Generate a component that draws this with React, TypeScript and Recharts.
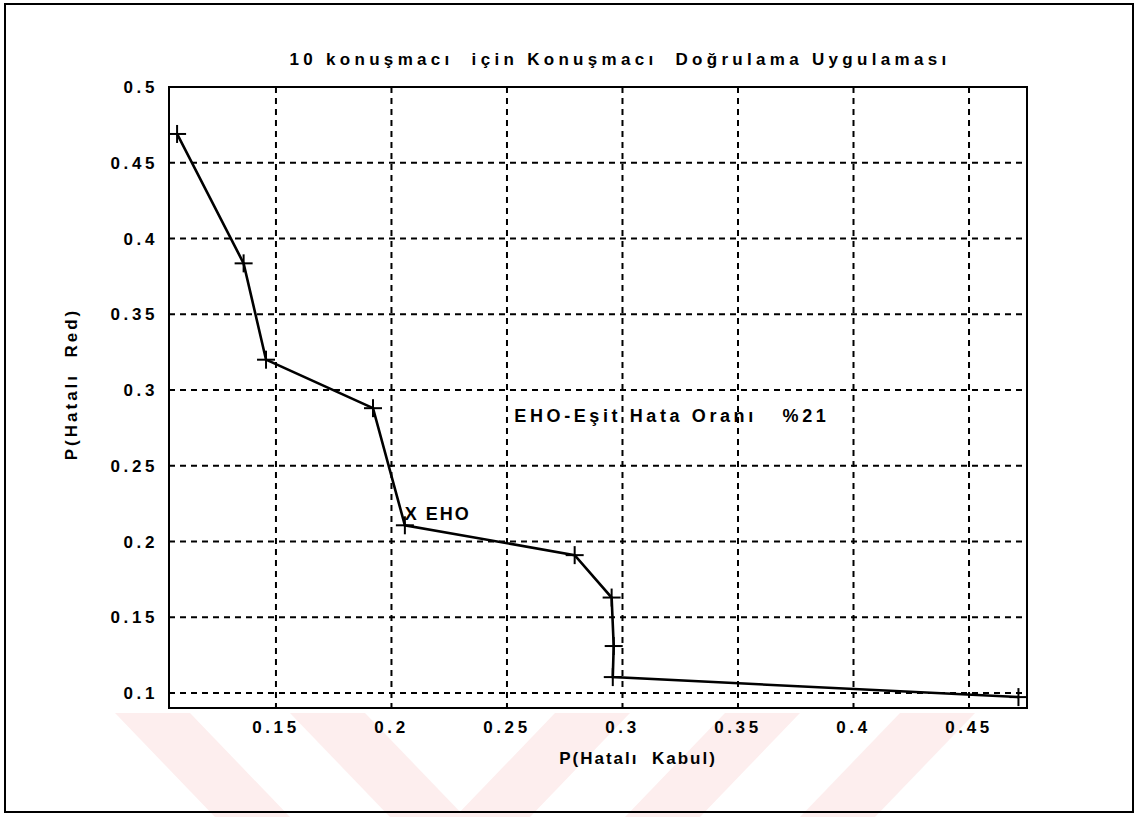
import React from 'react';
import { LineChart, Line, XAxis, YAxis, CartesianGrid, ReferenceDot, ReferenceArea } from 'recharts';

const falseAccept = [0.1072, 0.136, 0.1457, 0.192, 0.2058, 0.2793, 0.2953, 0.2962, 0.2958, 0.4714];
const falseReject = [0.469, 0.3836, 0.32, 0.288, 0.2107, 0.191, 0.163, 0.131, 0.1105, 0.0973];
const xTicks = [0.15, 0.2, 0.25, 0.3, 0.35, 0.4, 0.45];
const yTicks = [0.1, 0.15, 0.2, 0.25, 0.3, 0.35, 0.4, 0.45, 0.5];
const xDomain = [0.1037, 0.4751];
const yDomain = [0.0901, 0.5];
const eer = { x: 0.2058, y: 0.2185, text: 'X EHO' };
const eerNote = { x: 0.2532, y: 0.283, text: 'EHO-Eşit Hata Oranı   %21' };

const titleText = '10 konuşmacı  için Konuşmacı  Doğrulama Uygulaması';
const xLabel = 'P(Hatalı  Kabul)';
const yLabel = 'P(Hatalı  Red)';

const data = falseAccept.map((x, i) => ({ x, y: falseReject[i] }));

const font = '"Liberation Sans", Arial, sans-serif';
const ink = '#000';

const Plus = (props: any) => {
	const { cx, cy } = props;
	if (cx == null || cy == null) return null;
	return (
		<g>
			<line x1={cx - 9} x2={cx + 9} y1={cy} y2={cy} stroke={ink} strokeWidth={2} />
			<line x1={cx} x2={cx} y1={cy - 9} y2={cy + 9} stroke={ink} strokeWidth={2} />
		</g>
	);
};

const note = (text: string, spacing: number) => (p: any) => (
	<text
		x={p.cx}
		y={p.cy}
		dy="0.35em"
		fontFamily={font}
		fontSize={18}
		fontWeight={700}
		letterSpacing={spacing}
		fill={ink}
		style={{ whiteSpace: 'pre' }}
	>
		{text}
	</text>
);

const tickStyle = { fill: ink, fontSize: 17, fontFamily: font, fontWeight: 700, letterSpacing: 3.6 };

const App: React.FC = () => {
	return (
		<div style={{ position: 'absolute', left: 0, top: 0, width: 1138, height: 817, background: '#fff', fontFamily: font }}>
			<svg width={1138} height={817} style={{ position: 'absolute', left: 0, top: 0 }}>
				{[115, 290].map((x0) => (
					<polygon key={`b${x0}`} points={`${x0},713 ${x0 + 75},713 ${x0 + 175},817 ${x0 + 100},817`} fill="#fdeeee" />
				))}
				{[455, 625, 800].map((x0) => (
					<polygon key={`s${x0}`} points={`${x0 + 100},713 ${x0 + 175},713 ${x0 + 75},817 ${x0},817`} fill="#fdeeee" />
				))}
			</svg>
			<div style={{ position: 'absolute', left: 4, top: 3, width: 1126, height: 806, border: '2px solid #000' }} />
			<div style={{ position: 'absolute', left: 0, top: 0 }}>
				<LineChart width={1138} height={817} data={data} margin={{ top: 87, right: 111, bottom: 0, left: 0 }}>
					<CartesianGrid stroke={ink} strokeWidth={2} strokeDasharray="6 5" vertical horizontal />
					<XAxis
						type="number"
						dataKey="x"
						domain={xDomain}
						ticks={xTicks}
						allowDataOverflow
						height={109}
						tickSize={0}
						tickMargin={13}
						tickLine={false}
						axisLine={{ stroke: ink, strokeWidth: 2 }}
						tick={tickStyle}
					/>
					<YAxis
						type="number"
						dataKey="y"
						domain={yDomain}
						ticks={yTicks}
						allowDataOverflow
						width={169}
						tickSize={0}
						tickMargin={11}
						tickLine={false}
						axisLine={{ stroke: ink, strokeWidth: 2 }}
						tick={tickStyle}
					/>
					<ReferenceArea x1={xDomain[0]} x2={xDomain[1]} y1={yDomain[0]} y2={yDomain[1]} fill="none" stroke={ink} strokeWidth={2} />
					<Line
						type="linear"
						dataKey="y"
						stroke={ink}
						strokeWidth={2.6}
						dot={<Plus />}
						isAnimationActive={false}
					/>
					<ReferenceDot x={eer.x} y={eer.y} r={0} shape={note(eer.text, 2)} />
					<ReferenceDot x={eerNote.x} y={eerNote.y} r={0} shape={note(eerNote.text, 3.6)} />
				</LineChart>
			</div>
			<div style={{ position: 'absolute', left: 0, width: 1240, top: 50, textAlign: 'center', fontSize: 17, fontWeight: 700, letterSpacing: 4.3, whiteSpace: 'pre' }}>
				{titleText}
			</div>
			<div style={{ position: 'absolute', left: 0, width: 1276, top: 749, textAlign: 'center', fontSize: 17, fontWeight: 700, letterSpacing: 2, whiteSpace: 'pre' }}>
				{xLabel}
			</div>
			<div
				style={{
					position: 'absolute',
					left: 72,
					top: 384,
					transform: 'translate(-50%, -50%) rotate(-90deg)',
					fontSize: 17,
					fontWeight: 700,
					letterSpacing: 3,
					whiteSpace: 'pre'
				}}
			>
				{yLabel}
			</div>
		</div>
	);
};

export default App;
